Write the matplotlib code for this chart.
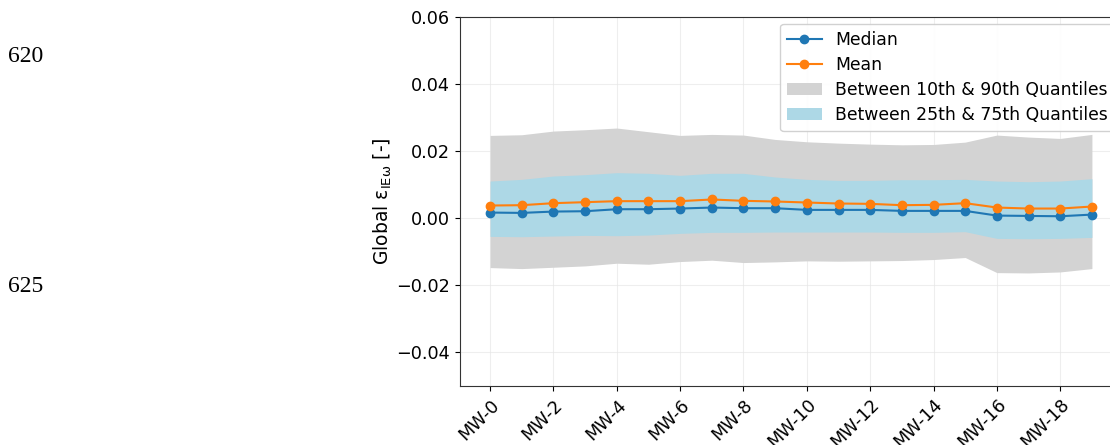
import numpy as np
import matplotlib
matplotlib.use("Agg")
import matplotlib.pyplot as plt

# values
labels = ["MW-%d" % i for i in range(20)]
median = [0.0017, 0.0016, 0.0020, 0.0021, 0.0027, 0.0027, 0.0029, 0.0032, 0.0030, 0.0030,
          0.0025, 0.0025, 0.0025, 0.0022, 0.0022, 0.0022, 0.0008, 0.0007, 0.0006, 0.0011]
mean = [0.0038, 0.0039, 0.0045, 0.0048, 0.0051, 0.0051, 0.0051, 0.0056, 0.0052, 0.0050,
        0.0047, 0.0044, 0.0043, 0.0039, 0.0040, 0.0045, 0.0032, 0.0029, 0.0029, 0.0035]
q10 = [-0.0147, -0.0150, -0.0146, -0.0142, -0.0134, -0.0137, -0.0129, -0.0125, -0.0132, -0.0130,
       -0.0127, -0.0128, -0.0127, -0.0126, -0.0123, -0.0117, -0.0162, -0.0163, -0.0160, -0.0150]
q90 = [0.0247, 0.0249, 0.0260, 0.0264, 0.0269, 0.0258, 0.0247, 0.0250, 0.0248, 0.0235,
       0.0228, 0.0224, 0.0221, 0.0219, 0.0220, 0.0227, 0.0248, 0.0242, 0.0238, 0.0250]
q25 = [-0.0054, -0.0055, -0.0053, -0.0051, -0.0052, -0.0050, -0.0045, -0.0042, -0.0042, -0.0041,
       -0.0041, -0.0041, -0.0041, -0.0042, -0.0042, -0.0040, -0.0060, -0.0061, -0.0060, -0.0057]
q75 = [0.0111, 0.0116, 0.0126, 0.0130, 0.0136, 0.0134, 0.0128, 0.0134, 0.0134, 0.0123,
       0.0116, 0.0113, 0.0113, 0.0115, 0.0115, 0.0116, 0.0111, 0.0109, 0.0111, 0.0118]

x = np.arange(len(labels))

fig = plt.figure(figsize=(11.1, 4.45), dpi=100)
ax = fig.add_axes([460 / 1110, 59 / 445, 662 / 1110, 369 / 445])

ax.fill_between(x, q10, q90, color="lightgrey", linewidth=0,
                label="Between 10th & 90th Quantiles")
ax.fill_between(x, q25, q75, color="lightblue", linewidth=0,
                label="Between 25th & 75th Quantiles")
ax.plot(x, median, marker="o", color="tab:blue", markersize=6, label="Median")
ax.plot(x, mean, marker="o", color="tab:orange", markersize=6, label="Mean")

ax.set_ylim(-0.05, 0.06)
ax.set_yticks([-0.04, -0.02, 0.0, 0.02, 0.04, 0.06])
ax.set_xticks(x[::2])
ax.set_xticklabels(labels[::2], rotation=45, ha="right", rotation_mode="anchor")
ax.tick_params(labelsize=12.7)
ax.grid(True, color="#e4e4e4", alpha=0.6, linewidth=0.8)
ax.set_axisbelow(True)
for s in ax.spines.values():
    s.set_color("#333333")

ax.set_ylabel("Global ε$_{\\mathregular{IEω}}$ [-]", fontsize=13.5, labelpad=2)

h, l = ax.get_legend_handles_labels()
order = [2, 3, 0, 1]
ax.legend([h[i] for i in order], [l[i] for i in order], loc="upper right",
          fontsize=12.4, framealpha=0.9, borderaxespad=0.4, labelspacing=0.42,
          handletextpad=0.8, borderpad=0.4)

# line numbers from the page margin
fig.text(8 / 1110, 1 - 57 / 445, "620", family="Liberation Serif", fontsize=17, va="center")
fig.text(8 / 1110, 1 - 287 / 445, "625", family="Liberation Serif", fontsize=17, va="center")

fig.savefig("out.png", dpi=100)
